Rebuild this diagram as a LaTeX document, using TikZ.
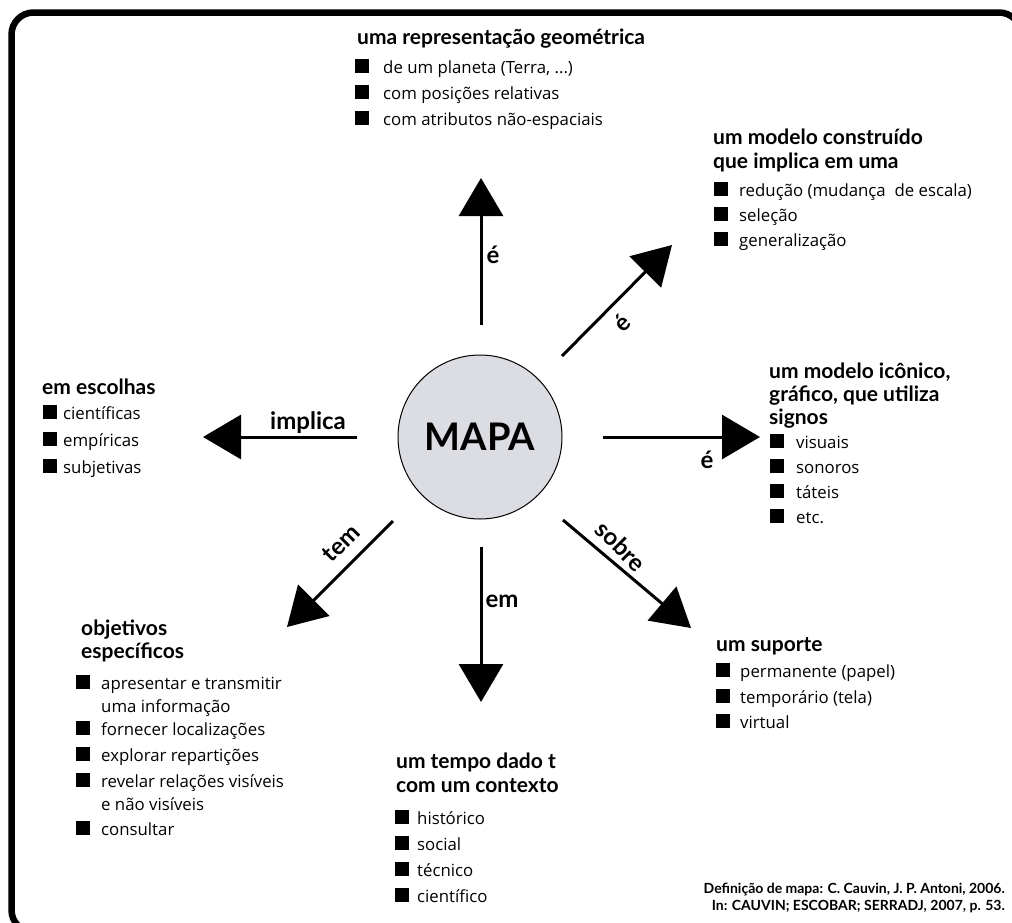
\documentclass[tikz,border=0pt]{standalone}
\usepackage{fontspec}
\setmainfont{Open Sans}
\newfontfamily\hfont{Lato}
\usetikzlibrary{arrows.meta}
\definecolor{mapagray}{RGB}{220,221,226}
\newcommand\mkitem[5]{\node[sq] (#1s) at (#2,#4) {}; \node[itm] (#1) at (#3,#4) {#5};}
\newcommand\mkline[4]{\node[itm] (#1) at (#2,#3) {#4};}
\newcommand\mkhead[4]{\node[head] (#1) at (#2,#3) {#4};}
\begin{document}
\begin{tikzpicture}[x=1pt,y=-1pt,
  head/.style={anchor=base west, inner sep=0pt, font=\hfont\bfseries\fontsize{21}{24}\selectfont},
  itm/.style={anchor=base west, inner sep=0pt, font=\fontsize{16.8}{19}\selectfont},
  sq/.style={anchor=south west, fill=black, minimum size=13.5pt, inner sep=0pt},
  lbl/.style={font=\hfont\bfseries\fontsize{24}{28}\selectfont, inner sep=0pt},
  arr/.style={line width=3pt, -{Triangle[length=38pt,width=44pt]}},
  cite/.style={anchor=base east, inner sep=0pt, font=\hfont\bfseries\fontsize{14}{16}\selectfont}]
\useasboundingbox (0,0) rectangle (1012,922);
\begin{scope}
\clip (0,0) rectangle (1012,922);
\draw[line width=6.5pt, rounded corners=22pt] (11.5,12.5) rectangle (1021,932);
\end{scope}

% center
\node[circle, draw, line width=1pt, fill=mapagray, minimum size=164pt, inner sep=0pt,
  font=\hfont\bfseries\fontsize{38}{40}\selectfont] (mapa) at (480,437) {MAPA};

% arrows
\coordinate (uS) at (481,325); \coordinate (uT) at (481,178);
\coordinate (urS) at (562,356); \coordinate (urT) at (672,245);
\coordinate (rS) at (603,437); \coordinate (rT) at (760,437);
\coordinate (lS) at (357,437); \coordinate (lT) at (203,437);
\coordinate (dS) at (481,547); \coordinate (dT) at (481,702);
\coordinate (dlS) at (393,521); \coordinate (dlT) at (287,627);
\coordinate (drS) at (563,520); \coordinate (drT) at (691,628);
\draw[arr] (uS) -- (uT);
\draw[arr] (urS) -- (urT);
\draw[arr] (rS) -- (rT);
\draw[arr] (lS) -- (lT);
\draw[arr] (dS) -- (dT);
\draw[arr] (dlS) -- (dlT);
\draw[arr] (drS) -- (drT);

% arrow labels
\node[lbl] (lu) at (493,255) {é};
\node[lbl, rotate=45] (lur) at (622,323) {é};
\node[lbl] (lr) at (707,460) {é};
\node[lbl] (ll) at (308,423) {implica};
\node[lbl] (ld) at (502,601) {em};
\node[lbl, rotate=45] (ldl) at (341,543) {tem};
\node[lbl, rotate=-45] (ldr) at (621,546) {sobre};

% top block
\mkhead{th}{357}{44}{uma representação geométrica}
\mkitem{t1}{355}{383}{73}{de um planeta (Terra, ...)}
\mkitem{t2}{355}{383}{99}{com posições relativas}
\mkitem{t3}{355}{383}{125}{com atributos não-espaciais}

% top right block
\mkhead{trh1}{713}{144}{um modelo construído}
\mkhead{trh2}{713}{168}{que implica em uma}
\mkitem{tr1}{714}{739}{196}{redução (mudança\ \ de escala)}
\mkitem{tr2}{714}{739}{221}{seleção}
\mkitem{tr3}{714}{739}{246}{generalização}

% right block
\mkhead{rh1}{769}{378}{um modelo icônico,}
\mkhead{rh2}{769}{401}{gráfico, que utiliza}
\mkhead{rh3}{769}{424}{signos}
\mkitem{r1}{770}{796}{448}{visuais}
\mkitem{r2}{770}{796}{473}{sonoros}
\mkitem{r3}{770}{796}{498}{táteis}
\mkitem{r4}{770}{796}{523}{etc.}

% bottom right block
\mkhead{brh}{716}{651}{um suporte}
\mkitem{br1}{716}{740}{677}{permanente (papel)}
\mkitem{br2}{716}{740}{703}{temporário (tela)}
\mkitem{br3}{716}{740}{728}{virtual}

% bottom block
\mkhead{bh1}{396}{768}{um tempo dado t}
\mkhead{bh2}{396}{792}{com um contexto}
\mkitem{b1}{395}{417}{824}{histórico}
\mkitem{b2}{395}{417}{850}{social}
\mkitem{b3}{395}{417}{876}{técnico}
\mkitem{b4}{395}{417}{902}{científico}

% bottom left block
\mkhead{blh1}{81}{635}{objetivos}
\mkhead{blh2}{81}{658}{específicos}
\mkitem{bl1}{76}{101}{689}{apresentar e transmitir}
\mkline{bl1b}{101}{712}{uma informação}
\mkitem{bl2}{76}{101}{735}{fornecer localizações}
\mkitem{bl3}{76}{101}{761}{explorar repartições}
\mkitem{bl4}{76}{101}{787}{revelar relações visíveis}
\mkline{bl4b}{101}{810}{e não visíveis}
\mkitem{bl5}{76}{101}{835}{consultar}

% left block
\mkhead{lh}{42}{394}{em escolhas}
\mkitem{l1}{43}{63}{419}{científicas}
\mkitem{l2}{43}{63}{446}{empíricas}
\mkitem{l3}{43}{63}{473}{subjetivas}

% citation
\node[cite] (c1) at (1005,893) {Definição de mapa: C. Cauvin, J. P. Antoni, 2006.};
\node[cite] (c2) at (1005,910) {In: CAUVIN; ESCOBAR; SERRADJ, 2007, p. 53.};
\end{tikzpicture}
\end{document}
